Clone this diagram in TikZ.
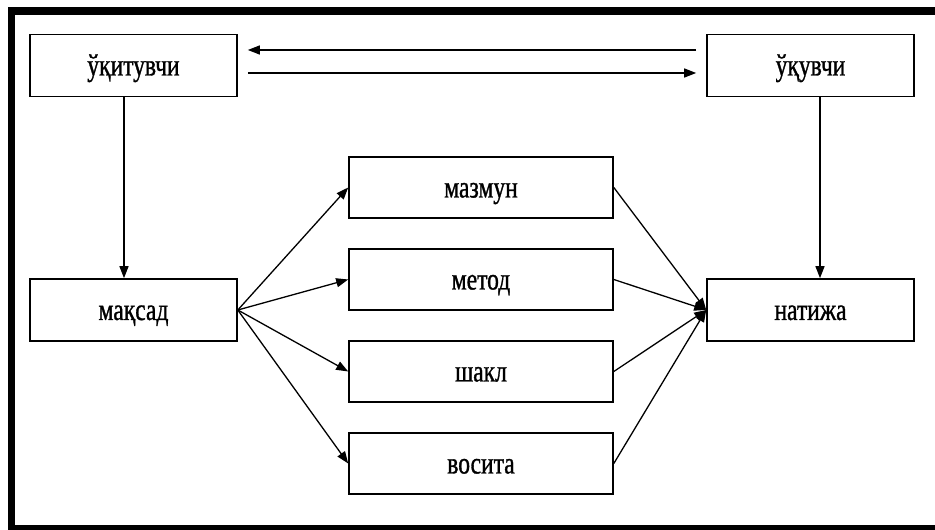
\documentclass[tikz,border=0pt]{standalone}
\usepackage{fontspec}
\setmainfont{Liberation Serif}[FakeStretch=0.76, FakeBold=1]
\usetikzlibrary{arrows.meta}
\begin{document}
\begin{tikzpicture}[x=1pt, y=1pt,
    box/.style={draw, line width=1.6pt, minimum width=207pt, minimum height=62pt,
      inner sep=0pt, text height=22pt, text depth=2pt, font=\fontsize{31}{34}\selectfont},
    midbox/.style={box, minimum width=264pt, minimum height=61pt},
    arr/.style={line width=1.3pt, -{Triangle[length=12pt, width=9pt]}}]
        \useasboundingbox (0,0) rectangle (935,530);
        % frame
        \fill (8,515) rectangle (935,523);
        \fill (8,0) rectangle (15,523);
        \fill (8,0) rectangle (935,5);
        % boxes
        \node[box] (uqituvchi) at (133.5,464.5) {ўқитувчи};
        \node[box] (uquvchi) at (810.5,464.5) {ўқувчи};
        \node[box] (maqsad) at (133.5,220) {мақсад};
        \node[box] (natija) at (810.5,220) {натижа};
        \foreach \nm/\txt/\y in {mazmun/мазмун/342.5, metod/метод/250.5,
                                 shakl/шакл/158.5, vosita/восита/66.5}{
          \node[midbox] (\nm) at (481,\y) {\txt};
          \draw[arr] (maqsad.east) -- (\nm.west);
          \draw[arr] (\nm.east) -- (natija.west);
        }
        % top arrows
        \coordinate (a1) at ([yshift=15.5pt]uquvchi.west);
        \coordinate (a2) at ([xshift=10pt, yshift=15.5pt]uqituvchi.east);
        \coordinate (b1) at ([xshift=10pt, yshift=-7.5pt]uqituvchi.east);
        \coordinate (b2) at ([yshift=-7.5pt]uquvchi.west);
        \draw[arr] ([xshift=-10pt]a1) -- (a2);
        \draw[arr] (b1) -- ([xshift=-10pt]b2);
        % down arrows
        \draw[arr] ([xshift=-9.5pt]uqituvchi.south) -- ([xshift=-9.5pt]maqsad.north);
        \draw[arr] ([xshift=9.5pt]uquvchi.south) -- ([xshift=9.5pt]natija.north);
\end{tikzpicture}
\end{document}
